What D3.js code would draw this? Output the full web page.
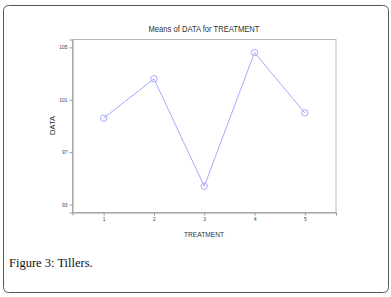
<!DOCTYPE html>
<html><head><meta charset="utf-8">
<script src="https://cdn.jsdelivr.net/npm/d3@7"></script>
<style>html,body{margin:0;padding:0;background:#fff;}svg{display:block;}</style>
</head><body>
<svg id="c" width="391" height="297"></svg>
<script>
const categories = [1, 2, 3, 4, 5];
const means = [99.6, 102.6, 94.4, 104.6, 100.0];
const yTicks = [93, 97, 101, 105];
const titleText = "Means of DATA for TREATMENT";
const xLabel = "TREATMENT";
const yLabel = "DATA";
const caption = "Figure 3: Tillers.";

const svg = d3.select("#c");
svg.append("rect").attr("x", 3.5).attr("y", 5.5).attr("width", 385).attr("height", 287)
  .attr("rx", 5).attr("fill", "#fff").attr("stroke", "#555").attr("stroke-width", 1);

const L = 72.5, T = 39.5, R = 336, B = 212.5;
const x = d3.scaleLinear().domain([0.38, 5.62]).range([L, R]);
const y = d3.scaleLinear().domain([92.4, 105.6]).range([B, T]);

svg.append("rect").attr("x", L).attr("y", T).attr("width", R - L).attr("height", B - T)
  .attr("fill", "none").attr("stroke", "#b8b8b8").attr("stroke-width", 1);

const yAxis = svg.append("g").attr("transform", `translate(${L},0)`)
  .call(d3.axisLeft(y).tickValues(yTicks).tickFormat(d3.format("d")).tickSize(3).tickPadding(2));
const xAxis = svg.append("g").attr("transform", `translate(0,${B})`)
  .call(d3.axisBottom(x).tickValues(categories).tickFormat(d3.format("d")).tickSize(3).tickPadding(2));
[yAxis, xAxis].forEach(g => {
  g.select(".domain").attr("stroke", "#999");
  g.selectAll(".tick line").attr("stroke", "#999");
  g.selectAll(".tick text").attr("fill", "#444").attr("font-family", "Liberation Sans, Arial, sans-serif").attr("font-size", 5);
});

const line = d3.line().x((d, i) => x(categories[i])).y(d => y(d));
svg.append("path").datum(means).attr("d", line).attr("fill", "none")
  .attr("stroke", "#a8a8ff").attr("stroke-width", 1);
svg.selectAll("circle.pt").data(means).join("circle").attr("class", "pt")
  .attr("cx", (d, i) => x(categories[i])).attr("cy", d => y(d)).attr("r", 3.2)
  .attr("fill", "none").attr("stroke", "#a8a8ff").attr("stroke-width", 1);

svg.append("text").attr("x", 204).attr("y", 32).attr("text-anchor", "middle")
  .attr("font-family", "Liberation Sans, Arial, sans-serif").attr("font-size", 9)
  .attr("textLength", 111).attr("lengthAdjust", "spacingAndGlyphs").attr("fill", "#333").text(titleText);
svg.append("text").attr("x", 204).attr("y", 237).attr("text-anchor", "middle")
  .attr("font-family", "Liberation Sans, Arial, sans-serif").attr("font-size", 7.5)
  .attr("textLength", 40).attr("lengthAdjust", "spacingAndGlyphs").attr("fill", "#333").text(xLabel);
svg.append("text").attr("transform", "translate(55,125.5) rotate(-90)").attr("text-anchor", "middle")
  .attr("font-family", "Liberation Sans, Arial, sans-serif").attr("font-size", 7.5)
  .attr("fill", "#333").text(yLabel);
svg.append("text").attr("x", 9).attr("y", 267)
  .attr("font-family", "Liberation Serif, Times New Roman, serif").attr("font-size", 12.5)
  .attr("fill", "#111").text(caption);
</script>
</body></html>
